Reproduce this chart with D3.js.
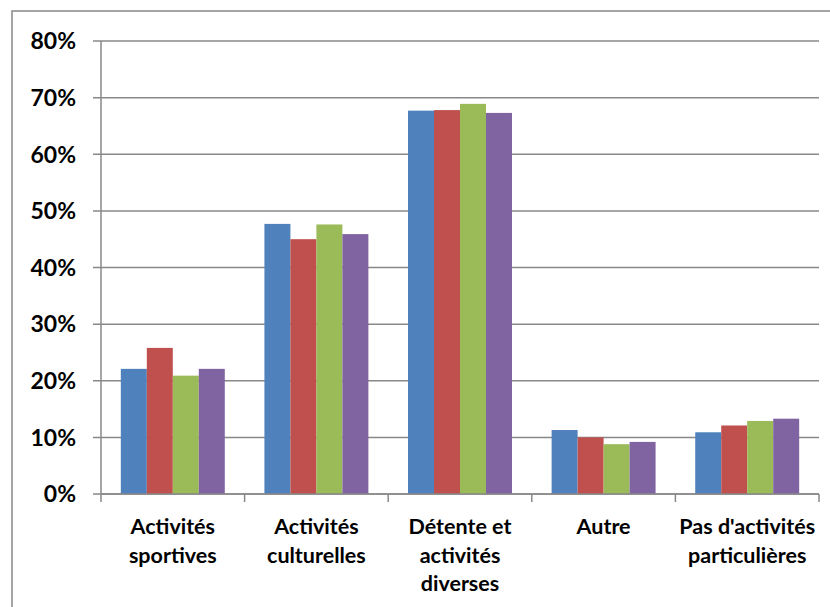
<!DOCTYPE html>
<html>
<head>
<meta charset="utf-8">
<script src="https://cdn.jsdelivr.net/npm/d3@7"></script>
<style>
  body { margin: 0; background: #fff; }
  svg text { font-family: Lato, "Open Sans", sans-serif; font-weight: bold; fill: #000; }
</style>
</head>
<body>
<svg id="chart" width="830" height="607"></svg>
<script>
// chart data
const categories = [
    ["Activités", "sportives"],
    ["Activités", "culturelles"],
    ["Détente et", "activités", "diverses"],
    ["Autre"],
    ["Pas d'activités", "particulières"]
];
const series = ["s1", "s2", "s3", "s4"];
const values = [
    [0.221, 0.258, 0.209, 0.221],
    [0.477, 0.450, 0.476, 0.459],
    [0.677, 0.678, 0.689, 0.673],
    [0.113, 0.100, 0.088, 0.092],
    [0.109, 0.121, 0.129, 0.133]
];
const yTicks = [0, 0.1, 0.2, 0.3, 0.4, 0.5, 0.6, 0.7, 0.8];
const colors = ["#4F81BD", "#C0504D", "#9BBB59", "#8064A2"];

const svg = d3.select('#chart');

// outer frame
svg.append('rect')
    .attr('x', 12).attr('y', 11)
    .attr('width', 840).attr('height', 620)
    .attr('fill', 'none')
    .attr('stroke', '#888')
    .attr('stroke-width', 1.5);

const plotLeft = 101, plotRight = 819, plotTop = 41, plotBottom = 494;

const scalex = d3.scaleBand()
    .domain(d3.range(categories.length))
    .range([plotLeft, plotRight])
    .paddingInner(0.276)
    .paddingOuter(0.138);

const scaley = d3.scaleLinear()
    .domain([0, 0.8])
    .range([plotBottom, plotTop]);

const inner = d3.scaleBand()
    .domain(series)
    .range([0, scalex.bandwidth()]);

// gridlines
svg.append('g')
    .selectAll('line')
    .data(yTicks)
    .enter()
    .append('line')
    .attr('x1', plotLeft - 8)
    .attr('x2', plotRight)
    .attr('y1', d => scaley(d))
    .attr('y2', d => scaley(d))
    .attr('stroke', '#888')
    .attr('stroke-width', 1.5);

// y labels
svg.append('g')
    .selectAll('text')
    .data(yTicks)
    .enter()
    .append('text')
    .attr('x', 76)
    .attr('y', d => scaley(d))
    .attr('dy', '0.36em')
    .attr('text-anchor', 'end')
    .style('font-size', '23px')
    .text(d => d3.format('.0%')(d));

// bars
const groups = svg.append('g')
    .selectAll('g')
    .data(values)
    .enter()
    .append('g')
    .attr('transform', (d, i) => 'translate(' + scalex(i) + ',0)');

groups.selectAll('rect')
    .data(d => d)
    .enter()
    .append('rect')
    .attr('x', (d, j) => inner(series[j]))
    .attr('y', d => scaley(d))
    .attr('width', inner.bandwidth())
    .attr('height', d => plotBottom - scaley(d))
    .attr('fill', (d, j) => colors[j]);

// axes lines
svg.append('line')
    .attr('x1', plotLeft).attr('x2', plotLeft)
    .attr('y1', plotTop).attr('y2', plotBottom)
    .attr('stroke', '#888').attr('stroke-width', 1.5);

svg.append('line')
    .attr('x1', plotLeft).attr('x2', plotRight)
    .attr('y1', plotBottom).attr('y2', plotBottom)
    .attr('stroke', '#888').attr('stroke-width', 1.5);

// category ticks
const step = (plotRight - plotLeft) / categories.length;
svg.append('g')
    .selectAll('line')
    .data(d3.range(categories.length + 1))
    .enter()
    .append('line')
    .attr('x1', i => plotLeft + i * step)
    .attr('x2', i => plotLeft + i * step)
    .attr('y1', plotBottom)
    .attr('y2', plotBottom + 8)
    .attr('stroke', '#888')
    .attr('stroke-width', 1.5);

// category labels
const labels = svg.append('g')
    .selectAll('text')
    .data(categories)
    .enter()
    .append('text')
    .attr('text-anchor', 'middle')
    .style('font-size', '21.5px')
    .attr('transform', (d, i) => 'translate(' + (scalex(i) + scalex.bandwidth() / 2) + ',0)');

labels.selectAll('tspan')
    .data(d => d)
    .enter()
    .append('tspan')
    .attr('x', 0)
    .attr('y', (d, k) => 534 + k * 28.5)
    .text(d => d);
</script>
</body>
</html>
